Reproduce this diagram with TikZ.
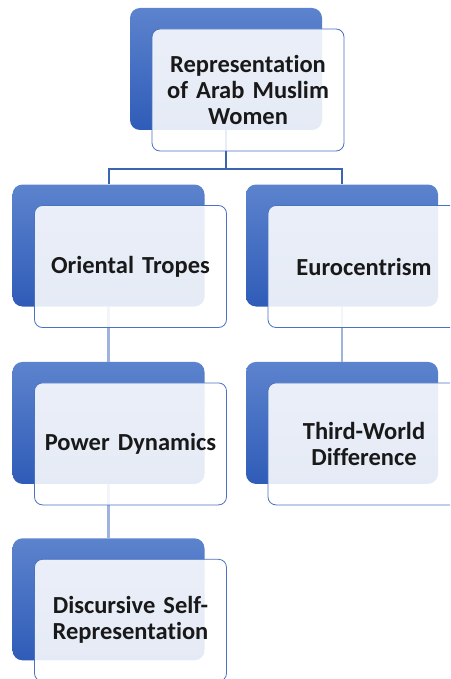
\documentclass[tikz,border=0pt]{standalone}
\usepackage{fontspec}
\setmainfont{Carlito}[Ligatures=NoCommon]
\usepackage{tikz}
\usetikzlibrary{positioning}

\definecolor{backtop}{HTML}{5C83CD}
\definecolor{backbot}{HTML}{2F5CB8}
\definecolor{boxline}{HTML}{4A72C2}
\definecolor{linkdark}{HTML}{3D64AE}
\definecolor{linklight}{HTML}{9FB4DC}

\begin{document}
\begin{tikzpicture}[x=1pt,y=-1pt]

\tikzset{backbox/.style={rounded corners=10pt, minimum width=192pt, minimum height=122pt,
           inner sep=0pt, top color=backtop, bottom color=backbot, draw=none},
         frontbox/.style={rounded corners=8pt, minimum width=192pt, minimum height=122pt,
           inner sep=0pt, fill=white, fill opacity=0.88, text opacity=1, draw=boxline,
           line width=0.8pt, text width=185pt, align=center, text=black!90,
           font=\fontsize{24.5}{26}\selectfont\bfseries, xshift=22pt, yshift=-21pt},
         toplink/.style={draw=linkdark, line width=2pt},
         sublink/.style={draw=linklight, line width=2.5pt}}

\useasboundingbox (0,0) rectangle (450,679);
\clip (0,0) rectangle (450,679);

% blue boxes at the back
\node[backbox] (topb) at (226,69) {};
\node[backbox] (otb) at (108.5,245.5) {};
\node[backbox] (eub) at (342,245.5) {};
\node[backbox, below=55pt of otb] (pdb) {};
\node[backbox, below=55pt of eub] (twb) {};
\node[backbox, below=54pt of pdb] (dsb) {};

% links
\draw[toplink] (topb.south) -- ++(0,39) -| (otb.north);
\draw[toplink] (topb.south) -- ++(0,39) -| (eub.north);
\draw[sublink] (otb.south) -- (pdb.north);
\draw[sublink] (pdb.south) -- (dsb.north);
\draw[sublink] (eub.south) -- (twb.north);

% text boxes in front
\node[frontbox] (top) at (topb) {Representation\\of Arab Muslim\\Women};
\node[frontbox] (ot) at (otb) {Oriental Tropes};
\node[frontbox] (eu) at (eub) {Eurocentrism};
\node[frontbox] (pd) at (pdb) {Power Dynamics};
\node[frontbox] (tw) at (twb) {Third-World\\Difference};
\node[frontbox] (ds) at (dsb) {Discursive Self-\\Representation};

\end{tikzpicture}
\end{document}
